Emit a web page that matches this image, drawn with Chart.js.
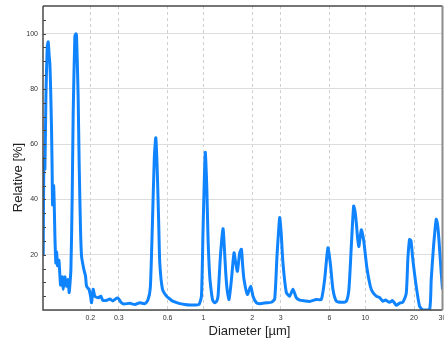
<!DOCTYPE html>
<html>
<head>
<meta charset="utf-8">
<script src="https://cdn.jsdelivr.net/npm/chart.js@4"></script>
<style>
  html, body { margin: 0; padding: 0; background: #fff; }
  #wrap { width: 444px; height: 345px; }
</style>
</head>
<body>
<div id="wrap"><canvas id="chart0" width="444" height="345"></canvas></div>
<script>
// diameter in µm
const diameters = [
  0.1023, 0.1033, 0.1048, 0.1063, 0.1083, 0.1098, 0.1114, 0.1125, 0.1137, 0.1152,
  0.1162, 0.1169, 0.1186, 0.1196, 0.1208, 0.1225, 0.1238, 0.1255, 0.1279, 0.1310,
  0.1340, 0.1359, 0.1392, 0.1426, 0.1459, 0.1480, 0.1517, 0.1545, 0.1567, 0.1605,
  0.1628, 0.1644, 0.1682, 0.1706, 0.1740, 0.1765, 0.1824, 0.1868, 0.1895, 0.1959,
  0.2007, 0.2035, 0.2082, 0.2133, 0.2236, 0.2323, 0.2390, 0.2530, 0.2640, 0.2755,
  0.2916, 0.3000, 0.3087, 0.3221, 0.3508, 0.3766, 0.4045, 0.4342, 0.4531, 0.4695,
  0.4831, 0.4970, 0.5077, 0.5186, 0.5298, 0.5373, 0.5583, 0.5908, 0.6194, 0.6463,
  0.7138, 0.7667, 0.8230, 0.8965, 0.9393, 0.9720, 0.9943, 1.026, 1.048, 1.068,
  1.094, 1.121, 1.141, 1.174, 1.208, 1.231, 1.273, 1.321, 1.348, 1.373,
  1.403, 1.439, 1.489, 1.545, 1.583, 1.621, 1.675, 1.716, 1.748, 1.781,
  1.869, 1.959, 2.024, 2.124, 2.226, 2.448, 2.630, 2.755, 2.847, 2.958,
  3.021, 3.100, 3.253, 3.409, 3.573, 3.751, 3.930, 4.221, 4.531, 4.984,
  5.350, 5.608, 5.877, 6.107, 6.310, 6.622, 7.111, 7.633, 7.921, 8.196,
  8.469, 8.627, 8.800, 8.966, 9.133, 9.448, 9.761, 10.23, 10.74, 11.10,
  11.69, 12.25, 12.84, 13.35, 14.13, 14.74, 15.54, 16.28, 17.07, 17.91,
  18.32, 18.77, 19.17, 19.67, 20.64, 21.64, 22.68, 24.95, 25.55, 26.41,
  27.44, 27.95, 28.47, 29.45, 30.00
];
// relative amount in %
const relative = [
  19.5, 55, 51, 77, 95, 97, 92, 89, 80, 65,
  50, 38, 45, 39, 27, 17, 21, 16, 18, 9,
  12, 7.5, 12, 8.6, 11, 6.3, 14.7, 41, 71, 99,
  100, 99, 77, 53, 29, 19.5, 14.7, 12.3, 8.6, 7.5,
  5, 2.6, 7.5, 5, 4.4, 5, 3.5, 3.5, 4, 3.3,
  4.3, 4, 2.8, 2.2, 2.4, 2, 2.6, 2.3, 3.5, 8,
  30, 55, 62.3, 50, 30, 17, 7.5, 5, 4, 3.2,
  2.3, 2, 1.8, 1.8, 2, 5, 29, 57, 45, 25.5,
  12, 6.2, 3.5, 2.6, 3.2, 5, 19.5, 29.4, 22, 13.5,
  7, 3.8, 11, 20.7, 17, 14, 20.7, 22, 16, 11,
  5.6, 8.6, 5, 2.6, 2.3, 2.6, 2.8, 4, 19.5, 33.4,
  28, 17, 6.3, 5, 7.5, 4.4, 3.6, 3.3, 3.1, 3.8,
  3.8, 11, 22.5, 15.9, 7.5, 3.2, 2.8, 3.2, 7.5, 23,
  37.6, 36, 31.6, 26, 23, 29, 25.5, 15.3, 8.6, 6.5,
  5, 4.5, 3.2, 3.6, 2.8, 3.4, 1.7, 2.5, 2.8, 6,
  18.3, 25.5, 25, 18.3, 8.6, 1.4, 0, 0, 11, 23,
  32.8, 31, 26, 13.5, 7.5
];
const xTickValues = [0.2, 0.3, 0.6, 1, 2, 3, 6, 10, 20, 30];
const yMinorTicks = [5, 10, 15, 20, 25, 30, 35, 40, 45, 50, 55, 60, 65, 70, 75, 80, 85, 90, 95, 100, 105];

const FONT = "'Liberation Sans', Arial, sans-serif";

const framePlugin = {
  id: "frame",
  afterDraw(chart) {
    const { ctx, chartArea: a, scales } = chart;
    ctx.save();
    // minor ticks on the y axis, pointing inward
    ctx.strokeStyle = "#444";
    ctx.lineWidth = 1;
    yMinorTicks.forEach((v) => {
      const y = Math.round(scales.y.getPixelForValue(v)) + 0.5;
      ctx.beginPath();
      ctx.moveTo(a.left, y);
      ctx.lineTo(a.left + 3, y);
      ctx.stroke();
    });
    // frame
    ctx.strokeStyle = "#4a4a4a";
    ctx.lineWidth = 1.5;
    ctx.beginPath();
    ctx.moveTo(a.left, a.top);
    ctx.lineTo(a.right, a.top);
    ctx.moveTo(a.left, a.top);
    ctx.lineTo(a.left, a.bottom);
    ctx.lineTo(a.right, a.bottom);
    ctx.stroke();
    ctx.strokeStyle = "#8c8c8c";
    ctx.lineWidth = 2;
    ctx.beginPath();
    ctx.moveTo(a.right, a.top);
    ctx.lineTo(a.right, a.bottom);
    ctx.stroke();
    // axis titles
    ctx.fillStyle = "#222";
    ctx.font = "13px " + FONT;
    ctx.textAlign = "center";
    ctx.textBaseline = "middle";
    ctx.fillText("Diameter [µm]", 249.5, 331);
    ctx.translate(18, 177.5);
    ctx.rotate(-Math.PI / 2);
    ctx.fillText("Relative [%]", 0, 0);
    ctx.restore();
  },
};

new Chart(document.getElementById("chart0"), {
  type: "line",
  data: {
    datasets: [
      {
        data: diameters.map((d, i) => ({ x: d, y: relative[i] })),
        borderColor: "#0f84fe",
        borderWidth: 3,
        pointRadius: 0,
        tension: 0.2,
        fill: false,
      },
    ],
  },
  options: {
    responsive: false,
    animation: false,
    layout: { padding: { left: 0, right: 1.5, top: 6, bottom: 0 } },
    plugins: { legend: { display: false }, tooltip: { enabled: false } },
    scales: {
      x: {
        type: "logarithmic",
        min: 0.102,
        max: 30,
        afterBuildTicks: (scale) => {
          scale.ticks = xTickValues.map((v) => ({ value: v }));
        },
        afterFit: (scale) => {
          scale.height = 35;
          scale.paddingLeft = 0;
          scale.paddingRight = 0;
        },
        grid: { color: "#cfcfcf", lineWidth: 1, drawTicks: false },
        border: { display: false, dash: [3, 3] },
        ticks: {
          autoSkip: false,
          maxRotation: 0,
          padding: 4,
          color: "#333",
          font: { size: 7, family: FONT },
          callback: (v) => String(v),
        },
      },
      y: {
        min: 0,
        max: 110,
        afterFit: (scale) => {
          scale.width = 43;
          scale.paddingTop = 0;
          scale.paddingBottom = 0;
        },
        grid: { color: "#dcdcdc", lineWidth: 1, drawTicks: false },
        border: { display: false },
        ticks: {
          stepSize: 20,
          includeBounds: false,
          padding: 5,
          color: "#333",
          font: { size: 7, family: FONT },
          callback: (v) => (v === 0 ? "" : String(v)),
        },
      },
    },
  },
  plugins: [framePlugin],
});
</script>
</body>
</html>
